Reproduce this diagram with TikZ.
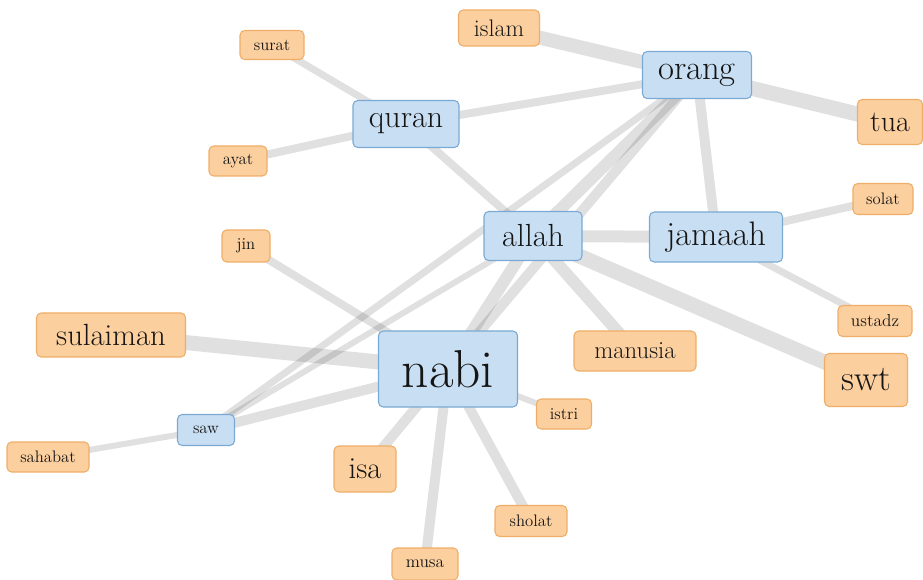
\documentclass[tikz,border=0pt]{standalone}
\usepackage{fontspec}
\usetikzlibrary{backgrounds}
\definecolor{bfill}{HTML}{C8DEF2}
\definecolor{bdraw}{HTML}{7AAAD3}
\definecolor{ofill}{HTML}{FBCF9E}
\definecolor{odraw}{HTML}{EFAE68}
\definecolor{txt}{HTML}{151515}
\tikzset{
  nd/.style={rounded corners=3.5pt, line width=0.8pt, inner sep=0pt, text=txt},
  bnode/.style={nd, fill=bfill, draw=bdraw},
  onode/.style={nd, fill=ofill, draw=odraw},
  sz/.style n args={3}{minimum width=#1*0.75pt, minimum height=#2*0.75pt, font=\fontsize{#3}{#3}\selectfont},
  ed/.style={draw=black, draw opacity=0.12, line width=#1*0.75pt},
}
\begin{document}
\begin{tikzpicture}[x=0.75pt,y=-0.75pt]
\useasboundingbox (0,0) rectangle (923,580);
% nodes
\node[onode, sz={81}{36}{18}]   (islam)    at (499,28)  {islam};
\node[bnode, sz={109}{47}{26}]  (orang)    at (697,75)  {orang};
\node[onode, sz={64}{29}{12.5}] (surat)    at (272,45)  {surat};
\node[bnode, sz={106}{47}{24}]  (quran)    at (406,124) {quran};
\node[onode, sz={65}{45}{22.5}] (tua)      at (890,122) {tua};
\node[onode, sz={58}{30}{12.5}] (ayat)     at (238,161) {ayat};
\node[onode, sz={60}{31}{12.5}] (solat)    at (883,199) {solat};
\node[onode, sz={48}{32}{12.5}] (jin)      at (246,246) {jin};
\node[bnode, sz={98}{49}{24}]   (allah)    at (533,236) {allah};
\node[bnode, sz={133}{50}{25.5}](jamaah)   at (716,237) {jamaah};
\node[onode, sz={149}{44}{23}]  (sulaiman) at (111,335) {sulaiman};
\node[bnode, sz={139}{76}{40}]  (nabi)     at (448,369) {nabi};
\node[onode, sz={122}{40}{18.5}](manusia)  at (635,351) {manusia};
\node[onode, sz={74}{31}{13}]   (ustadz)   at (875,321) {ustadz};
\node[onode, sz={83}{53}{27}]   (swt)      at (866,380) {swt};
\node[onode, sz={55}{30}{12.5}] (istri)    at (564,414) {istri};
\node[bnode, sz={57}{31}{12.5}] (saw)      at (206,430) {saw};
\node[onode, sz={82}{30}{12.5}] (sahabat)  at (48,457)  {sahabat};
\node[onode, sz={62}{46}{23}]   (isa)      at (365,469) {isa};
\node[onode, sz={72}{31}{12.5}] (sholat)   at (531,521) {sholat};
\node[onode, sz={66}{32}{13}]   (musa)     at (425,564) {musa};
% edges
\begin{scope}[on background layer]
\draw[ed=14] (islam.center) -- (orang.center);
\draw[ed=15] (orang.center) -- (tua.center);
\draw[ed=8]  (quran.center) -- (orang.center);
\draw[ed=10] (orang.center) -- (jamaah.center);
\draw[ed=12] (orang.center) -- (allah.center);
\draw[ed=10] (orang.center) -- (nabi.center);
\draw[ed=7]  (orang.center) -- (saw.center);
\draw[ed=7]  (surat.center) -- (quran.center);
\draw[ed=8]  (ayat.center) -- (quran.center);
\draw[ed=8]  (quran.center) -- (allah.center);
\draw[ed=12] (allah.center) -- (jamaah.center);
\draw[ed=12] (allah.center) -- (nabi.center);
\draw[ed=12] (allah.center) -- (manusia.center);
\draw[ed=15] (allah.center) -- (swt.center);
\draw[ed=6]  (allah.center) -- (saw.center);
\draw[ed=8]  (jamaah.center) -- (solat.center);
\draw[ed=7]  (jamaah.center) -- (ustadz.center);
\draw[ed=8]  (jin.center) -- (nabi.center);
\draw[ed=15] (sulaiman.center) -- (nabi.center);
\draw[ed=10] (nabi.center) -- (saw.center);
\draw[ed=6]  (saw.center) -- (sahabat.center);
\draw[ed=10] (nabi.center) -- (isa.center);
\draw[ed=10] (nabi.center) -- (musa.center);
\draw[ed=10] (nabi.center) -- (sholat.center);
\draw[ed=6]  (nabi.center) -- (istri.center);
\end{scope}
\end{tikzpicture}
\end{document}
